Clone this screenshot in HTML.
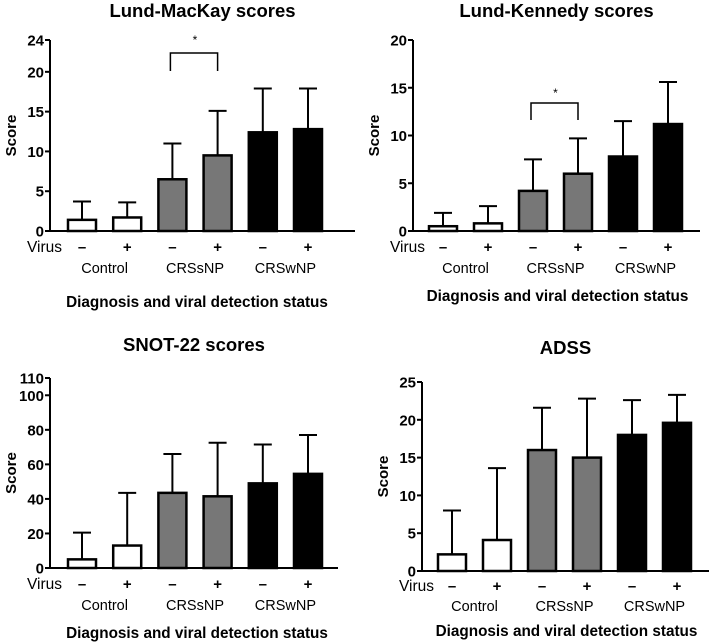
<!DOCTYPE html>
<html><head><meta charset="utf-8"><style>
html,body{margin:0;padding:0;background:#fff;}
svg{display:block;font-family:"Liberation Sans",Arial,sans-serif;}
</style></head><body>
<svg id="chart" width="709" height="642" viewBox="0 0 709 642" xmlns="http://www.w3.org/2000/svg"></svg>
<script>
const categories = ["Control -", "Control +", "CRSsNP -", "CRSsNP +", "CRSwNP -", "CRSwNP +"];
const lmMeans = [1.4, 1.7, 6.5, 9.5, 12.4, 12.8];
const lmUpper = [3.7, 3.6, 11.0, 15.1, 17.9, 17.9];
const lmTicks = [0, 5, 10, 15, 20, 24];
const lkMeans = [0.5, 0.8, 4.2, 6.0, 7.8, 11.2];
const lkUpper = [1.9, 2.6, 7.5, 9.7, 11.5, 15.6];
const lkTicks = [0, 5, 10, 15, 20];
const snMeans = [5, 13, 43.5, 41.5, 49, 54.5];
const snUpper = [20.5, 43.5, 66, 72.5, 71.5, 77];
const snTicks = [0, 20, 40, 60, 80, 100, 110];
const adMeans = [2.2, 4.1, 16, 15, 18, 19.6];
const adUpper = [8, 13.6, 21.6, 22.8, 22.6, 23.3];
const adTicks = [0, 5, 10, 15, 20, 25];
const fills = ["#fff", "#fff", "#777", "#777", "#000", "#000"];
const signs = ["–", "+", "–", "+", "–", "+"];
const groups = ["Control", "CRSsNP", "CRSwNP"];

const NS = "http://www.w3.org/2000/svg";
const svg = document.getElementById("chart");
function mk(tag, attrs, parent, text) {
  const e = document.createElementNS(NS, tag);
  for (const k in attrs) e.setAttribute(k, attrs[k]);
  if (text !== undefined) e.textContent = text;
  (parent || svg).appendChild(e);
  return e;
}

const panels = [
  {key: "lund-mackay", title: "Lund-MacKay scores", means: lmMeans, upper: lmUpper, ticks: lmTicks, max: 24,
   ax: 50, y0: 231, ytop: 40, xend: 355, x0: 82, step: 45.2, titleY: 17, virusY: 252, groupY: 273, xtY: 307, bracket: [2, 3, 53, 71, 40]},
  {key: "lund-kennedy", title: "Lund-Kennedy scores", means: lkMeans, upper: lkUpper, ticks: lkTicks, max: 20,
   ax: 413, y0: 231, ytop: 40, xend: 700, x0: 443, step: 45, titleY: 17, virusY: 252, groupY: 273, xtY: 301, bracket: [2, 3, 103, 120, 93]},
  {key: "snot-22", title: "SNOT-22 scores", means: snMeans, upper: snUpper, ticks: snTicks, max: 110,
   ax: 50, y0: 568, ytop: 378, xend: 338, x0: 82, step: 45.2, titleY: 351, virusY: 589, groupY: 610, xtY: 638, bracket: null},
  {key: "adss", title: "ADSS", means: adMeans, upper: adUpper, ticks: adTicks, max: 25,
   ax: 422, y0: 571, ytop: 382, xend: 709, x0: 452, step: 45, titleY: 354, virusY: 591, groupY: 611, xtY: 636, bracket: null}
];

panels.forEach(p => {
  const g = mk("g", {});
  
  
  const y = v => p.y0 - (v / p.max) * (p.y0 - p.ytop);
  const x = i => p.x0 + i * p.step;
  const cx = (p.ax + p.xend) / 2;
  const t = mk("text", {x: cx, y: p.titleY, "text-anchor": "middle", "font-size": 18.5, "font-weight": "bold"}, g, p.title);
  
  
  const yl = mk("text", {x: 0, y: 0, transform: `translate(${p.ax - 34},${(p.y0 + p.ytop) / 2}) rotate(-90)`, "text-anchor": "middle", "font-size": 15, "font-weight": "bold"}, g, "Score");
  
  
  p.means.forEach((m, i) => {
    const bx = x(i);
    const eb = mk("line", {x1: bx, x2: bx, y1: y(m), y2: y(p.upper[i]), stroke: "#000", "stroke-width": 2}, g);
    
    
    const cap = mk("line", {x1: bx - 9, x2: bx + 9, y1: y(p.upper[i]), y2: y(p.upper[i]), stroke: "#000", "stroke-width": 2}, g);
    
    
    const r = mk("rect", {x: bx - 14, y: y(m), width: 28, height: p.y0 - y(m), fill: fills[i], stroke: "#000", "stroke-width": 2.5}, g);
    
    
    const s = mk("text", {x: bx, y: p.virusY, "text-anchor": "middle", "font-size": 15, "font-weight": "bold"}, g, signs[i]);
    
    
  });
  const ya = mk("line", {x1: p.ax, x2: p.ax, y1: p.ytop, y2: p.y0 + 1, stroke: "#000", "stroke-width": 2}, g);
  
  
  const xa = mk("line", {x1: p.ax - 1, x2: p.xend, y1: p.y0, y2: p.y0, stroke: "#000", "stroke-width": 2}, g);
  
  
  p.ticks.forEach(tv => {
    mk("line", {x1: p.ax - 5, x2: p.ax, y1: y(tv), y2: y(tv), stroke: "#000", "stroke-width": 2}, g);
    const tl = mk("text", {x: p.ax - 6, y: y(tv) + 5.5, "text-anchor": "end", "font-size": 15, "font-weight": "bold"}, g, String(tv));
    
    
  });
  const v = mk("text", {x: p.ax - 23, y: p.virusY, "font-size": 15.5}, g, "Virus");
  
  
  groups.forEach((gn, j) => {
    const gl = mk("text", {x: (x(2 * j) + x(2 * j + 1)) / 2, y: p.groupY, "text-anchor": "middle", "font-size": 14.5}, g, gn);
    
    
  });
  const xt = mk("text", {x: (x(0) + x(5)) / 2 + 2, y: p.xtY, "text-anchor": "middle", "font-size": 15.3, "font-weight": "bold"}, g, "Diagnosis and viral detection status");
  
  
  if (p.bracket) {
    const [a, b, top, bot, sy] = p.bracket;
    const br = mk("path", {d: `M${x(a) - 2},${bot} V${top} H${x(b)} V${bot}`, fill: "none", stroke: "#000", "stroke-width": 1.5}, g);
    
    
    const st = mk("text", {x: (x(a) + x(b)) / 2, y: sy + 4, "text-anchor": "middle", "font-size": 12}, g, "*");
    
    
  }
});
</script>
</body></html>
